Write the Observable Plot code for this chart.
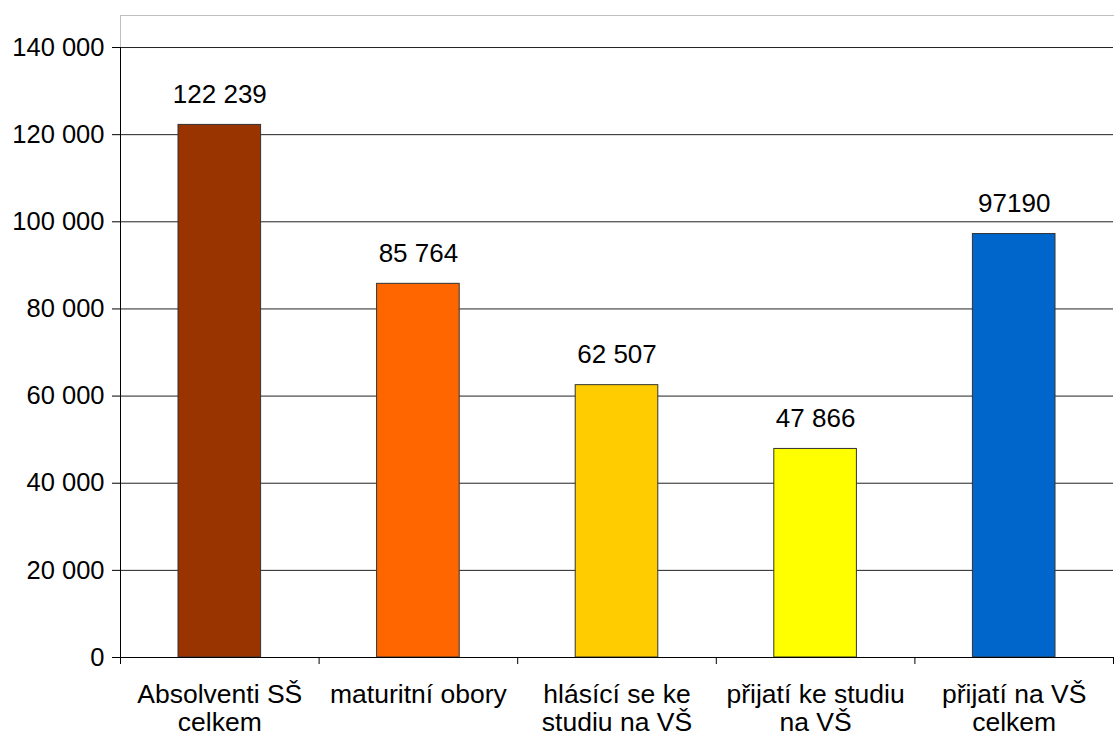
<!DOCTYPE html>
<html>
<head>
<meta charset="utf-8">
<script src="https://cdn.jsdelivr.net/npm/d3@7"></script>
<script src="https://cdn.jsdelivr.net/npm/@observablehq/plot@0.6"></script>
<style>
  html, body { margin: 0; padding: 0; background: #fff; }
  #chart svg { display: block; }
</style>
</head>
<body>
<div id="chart"></div>
<script>
const categories = ["Absolventi SŠ\ncelkem", "maturitní obory", "hlásící se ke\nstudiu na VŠ", "přijatí ke studiu\nna VŠ", "přijatí na VŠ\ncelkem"];
const values = [122239, 85764, 62507, 47866, 97190];
const valueLabels = ["122 239", "85 764", "62 507", "47 866", "97190"];
const colors = ["#993300", "#FF6600", "#FFCC00", "#FFFF00", "#0066CC"];
const yTicks = [0, 20000, 40000, 60000, 80000, 100000, 120000, 140000];
const yMax = 140000;
const yTop = 147350;

const rows = categories.map((c, i) => ({i, category: c, value: values[i], label: valueLabels[i], color: colors[i]}));
const centers = rows.map(d => d.i);
const boundaries = d3.range(-0.5, categories.length, 1);
const fmt = d => d3.format(",")(d).replace(/,/g, " ");

const chart = Plot.plot({
  width: 1120,
  height: 738,
  marginLeft: 120,
  marginRight: 7,
  marginTop: 15,
  marginBottom: 81,
  style: {fontFamily: "'Liberation Sans', Arial, sans-serif", color: "#000", background: "#fff"},
  x: {type: "linear", domain: [-0.5, categories.length - 0.5], label: null},
  y: {domain: [0, yTop], label: null},
  color: {type: "identity"},
  marks: [
    Plot.frame({anchor: "top", stroke: "#c0c0c0"}),
    Plot.frame({anchor: "left", stroke: "#c0c0c0"}),
    Plot.gridY(yTicks.filter(t => t > 0), {stroke: "#222", strokeOpacity: 1}),
    Plot.rectY(rows, {x1: d => d.i - 0.5, x2: d => d.i + 0.5, y: "value", fill: "color", stroke: "#333", strokeWidth: 1, insetLeft: 58, insetRight: 58}),
    Plot.ruleX([-0.5], {y1: 0, y2: yMax, stroke: "#000"}),
    Plot.ruleY([0], {stroke: "#000"}),
    Plot.axisY({ticks: yTicks, tickSize: 8, tickPadding: 8, tickFormat: fmt, fontSize: 25.5, stroke: "#000", strokeOpacity: 1, label: null}),
    Plot.axisX({ticks: boundaries, tickSize: 7, tickFormat: () => "", stroke: "#000", strokeOpacity: 1, label: null}),
    Plot.axisX({ticks: centers, tickSize: 0, tickPadding: 26, tickFormat: i => categories[i], fontSize: 26.5, lineHeight: 1.05, label: null}),
    Plot.text(rows, {x: "i", y: "value", text: "label", dy: -30, fontSize: 26, lineAnchor: "middle", fill: "#000"})
  ]
});
document.getElementById("chart").appendChild(chart);
</script>
</body>
</html>
